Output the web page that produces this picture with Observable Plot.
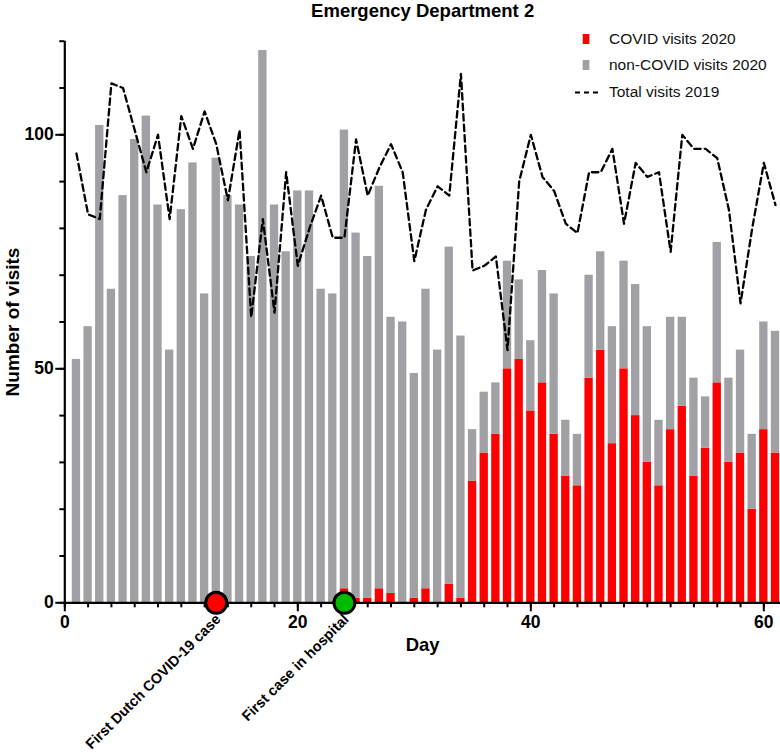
<!DOCTYPE html>
<html><head><meta charset="utf-8">
<script src="https://cdn.jsdelivr.net/npm/d3@7"></script>
<script src="https://cdn.jsdelivr.net/npm/@observablehq/plot@0.6"></script>
<style>
body{margin:0;background:#fff;font-family:"Liberation Sans",Arial,sans-serif}
#wrap{position:relative;width:780px;height:756px}
#legend{position:absolute;left:575px;top:25.5px;font-size:15.5px;color:#111}
.row{display:flex;align-items:center;height:26.5px;white-space:nowrap}
.row svg{display:block;margin-right:0}
</style></head><body>
<div id="wrap"><div id="legend"></div></div>
<script>
const title = "Emergency Department 2";
const xLabel = "Day";
const yLabel = "Number of visits";
const days = [1,2,3,4,5,6,7,8,9,10,11,12,13,14,15,16,17,18,19,20,21,22,23,24,25,26,27,28,29,30,31,32,33,34,35,36,37,38,39,40,41,42,43,44,45,46,47,48,49,50,51,52,53,54,55,56,57,58,59,60,61];
const covid2020 = [0,0,0,0,0,0,0,0,0,0,0,0,0,0,0,0,0,0,0,0,0,0,0,3,1,1,3,2,0,1,3,0,4,1,26,32,36,50,52,41,47,36,27,25,48,54,34,50,40,30,25,37,42,27,33,47,30,32,20,37,32];
const nonCovid2020 = [52,59,102,67,87,99,104,85,54,84,94,66,95,87,85,74,118,85,75,88,88,67,66,98,78,73,86,59,60,48,64,54,72,56,11,13,11,23,17,15,24,30,12,11,22,21,25,23,28,29,14,24,19,21,11,30,18,22,16,23,26];
const total2019 = [96,83,82,111,110,101,92,100,82,104,97,105,98,86,101,61,82,62,92,72,80,87,78,78,99,87,93,98,92,73,84,89,87,113,71,72,74,54,90,100,91,88,81,79,92,92,97,81,94,91,92,75,100,97,97,95,84,64,80,94,85];
const seriesNames = ["COVID visits 2020", "non-COVID visits 2020", "Total visits 2019"];
const seriesColors = ["#ff0000", "#a1a1a5", "#000000"];
const eventDays = [13, 24];
const eventLabels = ["First Dutch COVID-19 case", "First case in hospital"];
const eventColors = ["#ff0000", "#00bb00"];
const xMajorTicks = [0, 20, 40, 60];
const xMinorTicks = [0,2,4,6,8,10,12,14,16,18,20,22,24,26,28,30,32,34,36,38,40,42,44,46,48,50,52,54,56,58,60];
const yMajorTicks = [0, 50, 100];
const yMinorTicks = [0,10,20,30,40,50,60,70,80,90,100,110,120];

const bars = [
  ...days.map((d, i) => ({day: d, group: seriesNames[0], value: covid2020[i]})),
  ...days.map((d, i) => ({day: d, group: seriesNames[1], value: nonCovid2020[i]}))
];
const line2019 = days.map((d, i) => ({day: d, value: total2019[i]}));
const events = eventDays.map((d, i) => ({day: d, label: eventLabels[i], color: eventColors[i]}));

const font = "Liberation Sans, Arial, sans-serif";
const chart = Plot.plot({
  width: 780, height: 756,
  marginLeft: 64.3, marginRight: 0, marginTop: 40.7, marginBottom: 153.7,
  x: {domain: [0, 61.43]},
  y: {domain: [0, 120]},
  color: {domain: seriesNames.slice(0, 2), range: seriesColors.slice(0, 2)},
  style: {fontFamily: font, color: "#000", background: "transparent", overflow: "visible"},
  marks: [
    Plot.rectY(bars, Plot.stackY({
      x: "day", x1: d => d.day - 0.5, x2: d => d.day + 0.5, y: "value", fill: "group",
      insetLeft: 1.66, insetRight: 1.66
    })),
    Plot.line(line2019, {x: "day", y: "value", stroke: "#000", strokeWidth: 2.3, strokeDasharray: "6.5,4"}),
    Plot.axisY({ticks: yMinorTicks, tickSize: 5, tickFormat: () => "", label: null, strokeWidth: 2}),
    Plot.axisY({ticks: yMajorTicks, tickSize: 9, tickPadding: 2, label: null, strokeWidth: 2,
      fontSize: 17.5, fontWeight: "bold", fill: "#000"}),
    Plot.axisX({ticks: xMinorTicks, tickSize: 5, tickFormat: () => "", label: null, strokeWidth: 2}),
    Plot.axisX({ticks: xMajorTicks, tickSize: 9, tickPadding: 4, label: null, strokeWidth: 2,
      fontSize: 17.5, fontWeight: "bold", fill: "#000"}),
    Plot.ruleX([0], {strokeWidth: 2.2}),
    Plot.ruleY([0], {strokeWidth: 2.2}),
    ...events.map(e => Plot.dot([e], {x: "day", y: () => 0, r: 10.5, fill: e.color, stroke: "#000", strokeWidth: 3})),
    Plot.text(events, {x: "day", y: () => 0, text: "label", rotate: -45, textAnchor: "end", lineAnchor: "middle",
      dx: 2, dy: 14, fontSize: 14.5, fontWeight: "bold", fill: "#000"}),
    Plot.text([xLabel], {frameAnchor: "bottom", text: d => d, dy: 42, lineAnchor: "middle", fontSize: 18.5, fontWeight: "bold", fill: "#000"}),
    Plot.text([yLabel], {frameAnchor: "left", text: d => d, rotate: -90, dx: -52, lineAnchor: "middle", textAnchor: "middle", fontSize: 19, fontWeight: "bold", fill: "#000"}),
    Plot.text([title], {frameAnchor: "top", text: d => d, dy: -30, lineAnchor: "middle", fontSize: 18.5, fontWeight: "bold", fill: "#000"})
  ]
});
document.getElementById("wrap").prepend(chart);

const legend = document.getElementById("legend");
seriesNames.forEach((name, i) => {
  const row = document.createElement("div");
  row.className = "row";
  const sw = i < 2
    ? `<svg width="34" height="26"><rect x="7.7" y="8" width="6.7" height="10" fill="${seriesColors[i]}"/></svg>`
    : `<svg width="34" height="26"><line x1="0" x2="23" y1="13.5" y2="13.5" stroke="${seriesColors[i]}" stroke-width="2.2" stroke-dasharray="5,4"/></svg>`;
  row.innerHTML = sw + `<span>${name}</span>`;
  legend.appendChild(row);
});
</script>
</body></html>
